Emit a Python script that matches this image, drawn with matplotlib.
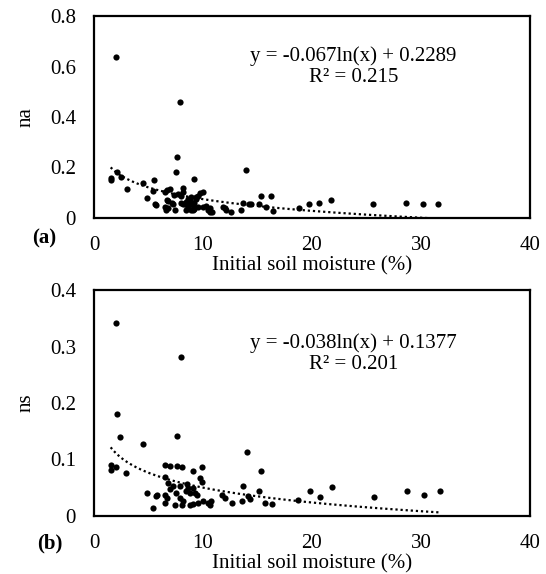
import matplotlib
matplotlib.use("Agg")
import matplotlib.pyplot as plt
import numpy as np
from matplotlib.ticker import FuncFormatter

plt.rcParams['font.family'] = ['Liberation Serif', 'DejaVu Serif']

# ---- data ----
x_na = [1.53, 1.53, 2.06, 2.15, 2.45, 3.0, 4.48, 4.85, 5.37, 5.46, 5.6, 5.72,
        6.47, 6.7, 6.94, 6.66, 6.79, 6.53, 6.64, 6.78, 7.15, 7.25, 7.36, 7.42,
        7.52, 7.58, 7.67, 7.88, 8.02, 8.13, 8.19, 8.0, 8.2, 8.32, 8.4, 8.48,
        8.6, 8.6, 8.63, 8.9, 8.9, 8.94, 9.08, 9.08, 9.14, 9.2, 9.2, 9.36, 9.4,
        9.54, 9.57, 9.7, 9.97, 10.0, 10.3, 10.46, 10.6, 10.6, 10.78,
        11.8, 12.0, 12.15, 12.6, 13.5, 13.65, 13.96, 14.26, 14.4, 15.1, 15.3,
        15.8, 16.2, 16.4, 18.8, 19.75, 20.6, 21.7, 25.6, 28.6, 30.2, 31.6]
y_na = [0.158, 0.150, 0.637, 0.184, 0.164, 0.116, 0.137, 0.079, 0.106, 0.152, 0.054, 0.050,
        0.103, 0.110, 0.116, 0.073, 0.069, 0.044, 0.030, 0.040, 0.059, 0.056, 0.090, 0.032,
        0.184, 0.240, 0.095, 0.458, 0.089, 0.119, 0.104, 0.060, 0.057, 0.056, 0.065, 0.030,
        0.075, 0.044, 0.050, 0.082, 0.033, 0.063, 0.050, 0.030, 0.153, 0.060, 0.037, 0.075, 0.083,
        0.043, 0.088, 0.098, 0.104, 0.043, 0.046, 0.030, 0.040, 0.022, 0.023,
        0.044, 0.040, 0.030, 0.025, 0.030, 0.058, 0.190, 0.054, 0.057, 0.057, 0.086,
        0.045, 0.086, 0.026, 0.040, 0.054, 0.061, 0.070, 0.055, 0.058, 0.057, 0.054]

x_ns = [1.53, 1.53, 2.05, 2.05, 2.14, 2.38, 2.96, 4.49, 4.89, 5.44, 5.7, 5.8,
        6.5, 6.97, 7.59, 8.04, 9.11, 9.88, 6.51, 9.72, 9.88, 6.82, 7.28, 6.97,
        7.89, 8.5, 8.65, 9.11, 8.8, 9.27, 9.42, 6.51, 6.67, 7.5, 7.89, 8.19,
        8.4, 6.51, 7.43, 8.04, 8.81, 9.11, 9.57, 10.03, 10.49, 10.64, 10.7,
        7.6, 7.97, 11.72, 12.0, 12.63, 13.55, 13.7, 14.0, 14.16, 14.3, 15.1,
        15.36, 15.7, 16.3, 18.7, 19.8, 20.7, 21.8, 25.7, 28.7, 30.3, 31.7]
y_ns = [0.091, 0.082, 0.341, 0.087, 0.180, 0.139, 0.076, 0.127, 0.040, 0.015, 0.036, 0.038,
        0.090, 0.088, 0.088, 0.086, 0.079, 0.086, 0.069, 0.067, 0.061, 0.058, 0.053, 0.047,
        0.053, 0.056, 0.050, 0.050, 0.041, 0.041, 0.038, 0.038, 0.032, 0.040, 0.032, 0.026,
        0.044, 0.023, 0.020, 0.020, 0.020, 0.021, 0.023, 0.026, 0.023, 0.019, 0.027,
        0.142, 0.282, 0.038, 0.032, 0.023, 0.026, 0.053, 0.113, 0.035, 0.030, 0.044,
        0.079, 0.023, 0.021, 0.029, 0.044, 0.034, 0.052, 0.034, 0.045, 0.038, 0.044]

fit_na = (-0.067, 0.2289)
fit_ns = (-0.038, 0.1377)
eq_na = ["y = -0.067ln(x) + 0.2289", "R² = 0.215"]
eq_ns = ["y = -0.038ln(x) + 0.1377", "R² = 0.201"]
xticks = [0, 10, 20, 30, 40]
yticks_na = [0, 0.2, 0.4, 0.6, 0.8]
yticks_ns = [0, 0.1, 0.2, 0.3, 0.4]
xlabel = "Initial soil moisture (%)"

FS = 15
fig = plt.figure(figsize=(5.46, 5.74), dpi=100)
ax1 = fig.add_axes([94/546, 1-218/574, 436/546, 202/574])
ax2 = fig.add_axes([94/546, 1-516/574, 436/546, 226/574])

fmt = FuncFormatter(lambda v, p: '0' if abs(v) < 1e-9 else f'{v:.1f}')

def panel(ax, xs, ys, fit, eq, yticks, ylabel, eq_y):
    ax.scatter(xs, ys, s=20, color='black', zorder=3, linewidths=0)
    xx = np.linspace(min(xs), max(xs), 200)
    ax.plot(xx, fit[0]*np.log(xx) + fit[1], color='black', lw=1.6,
            linestyle=(0, (1, 1.3)), zorder=2)
    ax.set_xlim(0, 40)
    ax.set_ylim(0, yticks[-1])
    ax.set_xticks(xticks)
    ax.set_yticks(yticks)
    ax.yaxis.set_major_formatter(fmt)
    ax.tick_params(length=0, labelsize=FS, pad=13)
    for sp in ax.spines.values():
        sp.set_linewidth(1.6)
    ax.set_xlabel(xlabel, fontsize=FS, labelpad=1)
    ax.set_ylabel(ylabel, fontsize=FS)
    ax.yaxis.set_label_coords(-0.135, 0.5)
    ax.text(0.595, eq_y, eq[0] + "\n" + eq[1], transform=ax.transAxes,
            ha='center', va='center', fontsize=FS, linespacing=1.15,
            multialignment='center')

panel(ax1, x_na, y_na, fit_na, eq_na, yticks_na, "na", 0.75)
panel(ax2, x_ns, y_ns, fit_ns, eq_ns, yticks_ns, "ns", 0.72)

fig.text(32/546, 1-238/574, "(a)", fontsize=FS, fontweight='bold', va='center', ha='left')
fig.text(37/546, 1-543/574, "(b)", fontsize=FS, fontweight='bold', va='center', ha='left')

fig.savefig("out.png", dpi=100)
